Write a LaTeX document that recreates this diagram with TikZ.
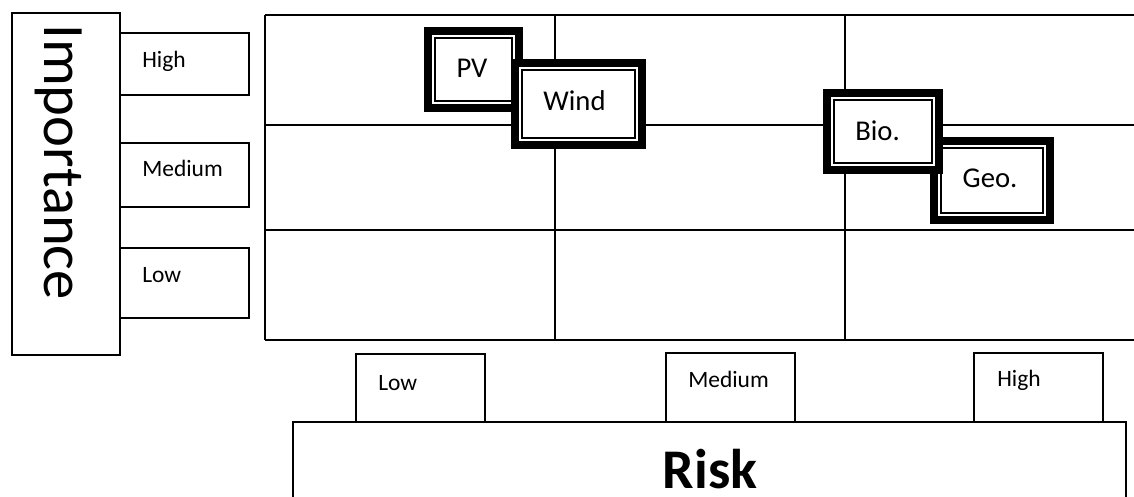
\documentclass[tikz,border=0pt]{standalone}
\usepackage{fontspec}
\setmainfont{Carlito}
\usetikzlibrary{calc}

% plain rectangle node spanning the corners (#2,#3)--(#4,#5)
\newcommand\rectnode[6][]{%
  \node[plainbox,#1,minimum width={(#4-#2)*0.75pt},minimum height={(#5-#3)*0.75pt}]
    (#6) at ({(#2+#4)/2},{(#3+#5)/2}) {};}

% thick-thin framed box: name, centre x, centre y, outer width, outer height
\newcommand\framedbox[5]{%
  \node[frameouter,minimum width={(#4-8)*0.75pt},minimum height={(#5-8)*0.75pt}]
    (#1) at (#2,#3) {};
  \node[frameinner,minimum width={(#4-22)*0.75pt},minimum height={(#5-22)*0.75pt}]
    (#1-in) at (#1.center) {};}

\begin{document}
\begin{tikzpicture}[x=0.75pt,y=-0.75pt,
  plainbox/.style={draw,line width=1.5pt,fill=white,inner sep=0pt,outer sep=0pt},
  gridline/.style={line width=1.6pt},
  frameouter/.style={draw,line width=6pt,fill=white,inner sep=0pt,outer sep=0pt},
  frameinner/.style={draw,line width=1.5pt,inner sep=0pt,outer sep=0pt},
  smalltext/.style={font=\fontsize{17.6pt}{19pt}\selectfont,inner sep=0pt,anchor=base west},
  celltext/.style={font=\fontsize{21.5pt}{24pt}\selectfont,inner sep=0pt,anchor=base},
  axistext/.style={font=\fontsize{44pt}{48pt}\selectfont,inner sep=0pt},
]
\useasboundingbox (0,0) rectangle (1134,496);
\fill[white] (0,0) rectangle (1134,496);

% 3x3 grid, open on the right
\foreach \yy in {15,125,230,340} \draw[gridline] (265,\yy) -- (1134,\yy);
\foreach \xx in {265,555,845} \draw[gridline] (\xx,15) -- (\xx,340);

% vertical axis
\rectnode{12}{13}{120}{355}{imp}
\node[axistext,rotate=-90,anchor=base west] (imp-t) at (44,24) {Importance};
\rectnode{120}{33}{249}{95}{ihigh}
\rectnode{120}{143}{249}{207}{imed}
\rectnode{120}{248}{249}{318}{ilow}
\node[smalltext] (ihigh-t) at (142,67) {High};
\node[smalltext] (imed-t) at (142,176) {Medium};
\node[smalltext] (ilow-t) at (142,282) {Low};

% horizontal axis
\rectnode{356}{354}{485}{422}{rlow}
\rectnode{666}{353}{795}{422}{rmed}
\rectnode{974}{353}{1103}{422}{rhigh}
\rectnode{293}{422}{1126}{500}{risk}
\node[smalltext] (rlow-t) at (378,390) {Low};
\node[smalltext] (rmed-t) at (688,387) {Medium};
\node[smalltext] (rhigh-t) at (997,386) {High};
\node[font=\fontsize{42pt}{46pt}\selectfont\bfseries,inner sep=0pt,anchor=base,
  text depth=0pt] (risk-t) at (710,488) {Risk};

% technologies placed in the grid
\framedbox{pv}{473.5}{69.5}{99}{85}
\node[celltext] (pv-t) at (472,77) {PV};
\framedbox{wind}{578.5}{104}{135}{90}
\node[celltext] (wind-t) at (574.5,110) {Wind};
\framedbox{geo}{992}{180.5}{124}{87}
\node[celltext] (geo-t) at (990,187) {Geo.};
\framedbox{bio}{883}{131.5}{120}{85}
\node[celltext] (bio-t) at (877.5,140) {Bio.};
\end{tikzpicture}
\end{document}
